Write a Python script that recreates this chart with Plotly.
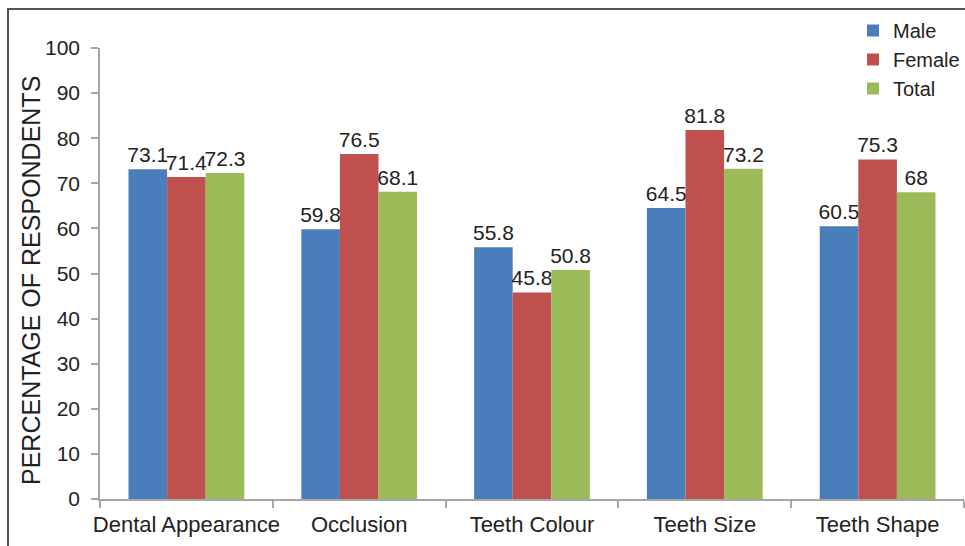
import plotly.graph_objects as go

categories = ["Dental Appearance", "Occlusion", "Teeth Colour", "Teeth Size", "Teeth Shape"]
male = [73.1, 59.8, 55.8, 64.5, 60.5]
female = [71.4, 76.5, 45.8, 81.8, 75.3]
total = [72.3, 68.1, 50.8, 73.2, 68]
y_ticks = [0, 10, 20, 30, 40, 50, 60, 70, 80, 90, 100]

W, H = 965, 546
ml, mr, mt, mb = 100, 1, 48, 47
pw = W - ml - mr
ph = H - mt - mb

font = "Liberation Sans, Arial, sans-serif"
txtc = "#222222"

fig = go.Figure()
for name, vals, col in [("Male", male, "#4A7EBB"), ("Female", female, "#C0504D"), ("Total", total, "#9BBB59")]:
    fig.add_trace(go.Bar(
        x=categories, y=vals, name=name, marker_color=col, marker_line_width=0,
        text=[f"{v:g}" for v in vals], textposition="outside", cliponaxis=False,
        constraintext="none",
        textfont=dict(size=21, color=txtc, family=font),
    ))

def px_x(p):
    return (p - ml) / pw

def px_y(p):
    return 1 - (p - mt) / ph

fig.add_shape(type="rect", xref="paper", yref="paper",
              x0=px_x(8), x1=px_x(975), y0=px_y(556), y1=px_y(9),
              line=dict(color="#555555", width=2), fillcolor="rgba(0,0,0,0)", layer="below")

fig.add_annotation(text="PERCENTAGE OF RESPONDENTS", textangle=-90, showarrow=False,
                   xref="paper", yref="paper", x=px_x(31), y=px_y(281),
                   xanchor="center", yanchor="middle",
                   font=dict(size=25, color=txtc, family=font))

fig.update_layout(
    width=W, height=H,
    margin=dict(l=ml, r=mr, t=mt, b=mb, pad=0, autoexpand=False),
    paper_bgcolor="white", plot_bgcolor="white",
    barmode="group", bargap=0.33, bargroupgap=0,
    font=dict(family=font, color=txtc, size=20),
    legend=dict(x=px_x(853), y=px_y(11), xanchor="left", yanchor="top",
                font=dict(size=20, color=txtc, family=font),
                bgcolor="rgba(0,0,0,0)", tracegroupgap=0, itemwidth=30),
    showlegend=True,
    xaxis=dict(showline=True, linecolor="#A6A6A6", linewidth=1.5, automargin=False,
               ticks="outside", ticklen=7, tickcolor="#A6A6A6", tickwidth=1.5, tickangle=0,
               tickson="boundaries", ticklabelstandoff=5,
               tickfont=dict(size=22, color=txtc, family=font),
               showgrid=False, zeroline=False),
    yaxis=dict(range=[0, 100], tickvals=y_ticks, showline=True, linecolor="#A6A6A6", linewidth=1.5,
               automargin=False, ticklabelstandoff=7,
               ticks="outside", ticklen=7, tickcolor="#A6A6A6", tickwidth=1.5,
               tickfont=dict(size=21, color=txtc, family=font), showgrid=False, zeroline=False),
)

fig.write_html("out.html")
